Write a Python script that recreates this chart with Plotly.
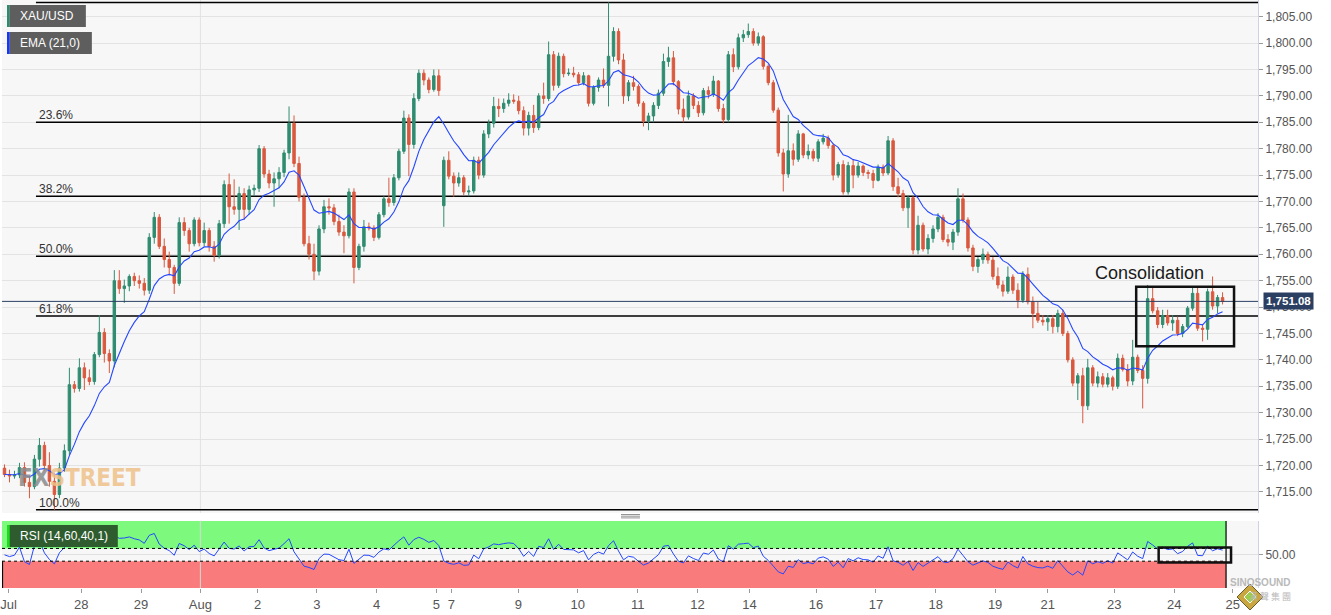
import plotly.graph_objects as go
import pandas as pd

# ---------------- data (2-hour candles, XAU/USD) ----------------
opens = [
    1719.5, 1718.3, 1718.0, 1718.2, 1719.6, 1716.8, 1716.0, 1721.2, 1723.8, 1720.0,
    1717.0, 1714.5, 1719.5, 1722.8, 1735.3, 1734.6, 1738.5, 1736.6, 1735.9, 1741.0,
    1745.2, 1741.2, 1739.8, 1755.0, 1753.5, 1754.0, 1755.8, 1755.0, 1754.5, 1753.2,
    1763.2, 1767.0, 1761.5, 1759.0, 1757.5, 1754.5, 1766.0, 1764.5, 1762.0, 1766.5,
    1762.2, 1764.5, 1761.5, 1759.8, 1765.8, 1773.2, 1769.0, 1768.5, 1771.5, 1768.5,
    1772.2, 1772.5, 1780.0, 1775.2, 1773.5, 1774.3, 1775.5, 1779.2, 1784.8, 1777.2,
    1770.8, 1762.0, 1760.0, 1756.8, 1764.8, 1769.0, 1768.8, 1766.2, 1764.2, 1763.5,
    1771.8, 1757.5, 1761.5, 1765.2, 1765.0, 1763.2, 1767.5, 1770.5, 1769.8, 1774.5,
    1779.5, 1785.8, 1780.8, 1789.5, 1794.3, 1793.0, 1791.2, 1793.8, 1769.2, 1777.8,
    1774.8, 1773.5, 1774.5, 1771.8, 1772.0, 1777.8, 1775.0, 1782.8, 1784.8, 1788.0,
    1787.6, 1788.6, 1789.2, 1789.0, 1787.2, 1783.9, 1786.3, 1784.0, 1790.0, 1789.5,
    1797.8, 1792.0, 1797.5, 1794.2, 1794.3, 1794.0, 1792.5, 1793.8, 1788.6, 1791.6,
    1793.0, 1792.0, 1797.5, 1802.2, 1796.8, 1790.0, 1792.5, 1791.8, 1788.6, 1785.2,
    1786.2, 1788.2, 1790.5, 1796.5, 1797.2, 1792.7, 1787.5, 1786.0, 1790.0, 1788.2,
    1786.8, 1791.0, 1790.3, 1792.8, 1787.6, 1785.5, 1797.8, 1795.5, 1801.0, 1801.6,
    1802.2, 1800.0, 1801.2, 1795.6, 1792.5, 1787.3, 1779.2, 1775.2, 1779.6, 1778.0,
    1782.8, 1778.8, 1779.5, 1778.2, 1781.3, 1782.0, 1780.6, 1775.0, 1777.0, 1771.8,
    1776.8, 1775.0, 1776.7, 1775.5, 1775.3, 1774.0, 1776.5, 1775.4, 1781.5, 1772.8,
    1771.5, 1768.8, 1770.7, 1760.8, 1765.5, 1761.0, 1763.0, 1764.8, 1767.0, 1762.8,
    1762.3, 1764.2, 1770.5, 1766.5, 1761.2, 1757.7, 1759.0, 1760.0, 1758.9, 1755.8,
    1754.2, 1753.0, 1755.7, 1753.2, 1751.3, 1756.2, 1751.0, 1748.8, 1747.5, 1747.2,
    1747.8, 1746.3, 1748.8, 1745.0, 1740.0, 1735.6, 1737.0, 1731.3, 1738.5, 1735.6,
    1736.8, 1735.4, 1736.6, 1735.0, 1740.3, 1738.2, 1736.0, 1740.5, 1738.0, 1736.5,
    1751.6, 1749.3, 1746.7, 1748.4, 1747.0, 1747.5, 1745.0, 1746.3, 1749.8, 1752.6,
    1746.0, 1745.8, 1752.9, 1750.2, 1751.8,
]
highs = [
    1720.2, 1719.2, 1719.0, 1720.5, 1720.6, 1718.0, 1722.0, 1725.2, 1724.5, 1722.5,
    1718.5, 1720.5, 1724.0, 1738.5, 1736.0, 1740.3, 1739.5, 1738.2, 1741.5, 1748.5,
    1746.0, 1742.0, 1757.0, 1757.0, 1755.2, 1756.2, 1756.5, 1756.0, 1755.5, 1764.0,
    1768.0, 1767.6, 1763.0, 1760.5, 1758.0, 1767.0, 1767.0, 1765.0, 1767.0, 1767.0,
    1766.0, 1765.0, 1762.5, 1766.5, 1774.0, 1775.3, 1774.2, 1772.8, 1772.5, 1773.0,
    1773.2, 1780.7, 1780.5, 1776.0, 1775.5, 1776.5, 1779.8, 1788.0, 1786.3, 1778.5,
    1771.5, 1763.5, 1762.0, 1765.5, 1770.3, 1770.6, 1769.5, 1767.5, 1765.5, 1772.5,
    1772.5, 1762.0, 1766.5, 1766.0, 1765.5, 1768.0, 1771.0, 1774.5, 1775.2, 1780.0,
    1787.2, 1786.5, 1790.5, 1795.0, 1795.0, 1793.5, 1795.0, 1795.0, 1778.5, 1779.5,
    1775.5, 1775.5, 1775.0, 1773.0, 1778.5, 1778.5, 1783.5, 1785.5, 1789.8, 1789.5,
    1789.5, 1790.5, 1790.3, 1790.0, 1788.0, 1787.0, 1788.3, 1790.5, 1792.5, 1800.3,
    1798.5, 1798.2, 1798.0, 1795.2, 1795.5, 1794.5, 1794.5, 1794.0, 1792.0, 1793.5,
    1795.2, 1807.7, 1803.0, 1802.8, 1798.0, 1793.0, 1793.8, 1792.2, 1789.0, 1786.8,
    1788.8, 1791.2, 1798.0, 1799.3, 1798.5, 1793.0, 1789.5, 1791.0, 1790.5, 1789.0,
    1791.5, 1791.8, 1793.8, 1793.0, 1788.5, 1798.5, 1799.0, 1801.8, 1802.5, 1803.7,
    1802.8, 1802.0, 1801.5, 1796.0, 1793.0, 1787.8, 1780.0, 1786.4, 1781.0, 1783.5,
    1783.0, 1780.8, 1780.0, 1781.8, 1782.8, 1782.5, 1781.0, 1777.5, 1777.8, 1777.5,
    1778.0, 1777.5, 1777.0, 1776.0, 1776.0, 1777.0, 1777.0, 1782.4, 1782.0, 1774.5,
    1772.2, 1771.2, 1771.0, 1767.3, 1766.0, 1763.8, 1765.5, 1767.8, 1767.5, 1763.8,
    1764.8, 1772.5, 1771.5, 1767.0, 1761.8, 1759.5, 1761.1, 1760.5, 1759.5, 1757.5,
    1755.0, 1757.7, 1756.2, 1754.5, 1756.8, 1757.5, 1752.0, 1751.0, 1748.5, 1748.5,
    1748.5, 1749.5, 1749.5, 1745.5, 1740.5, 1737.5, 1738.5, 1740.2, 1739.0, 1737.8,
    1737.5, 1737.5, 1737.0, 1741.2, 1741.0, 1739.2, 1743.8, 1741.0, 1739.0, 1754.2,
    1754.0, 1750.0, 1749.5, 1749.5, 1748.5, 1748.2, 1746.8, 1750.2, 1753.9, 1753.8,
    1746.8, 1753.5, 1755.8, 1752.3, 1752.8,
]
lows = [
    1717.8, 1716.8, 1717.5, 1717.6, 1716.0, 1713.8, 1715.5, 1719.8, 1719.0, 1716.0,
    1711.6, 1713.8, 1718.8, 1722.0, 1733.8, 1734.0, 1734.3, 1735.2, 1735.3, 1740.5,
    1739.5, 1737.5, 1738.6, 1752.5, 1750.8, 1753.0, 1754.0, 1753.5, 1752.2, 1752.5,
    1762.0, 1761.0, 1757.5, 1756.0, 1752.5, 1754.0, 1763.5, 1760.5, 1761.5, 1761.5,
    1761.5, 1760.5, 1758.6, 1759.2, 1765.0, 1765.8, 1767.5, 1764.6, 1766.5, 1767.5,
    1771.0, 1771.8, 1774.5, 1772.5, 1769.0, 1772.5, 1774.6, 1778.0, 1776.5, 1770.0,
    1761.5, 1759.0, 1755.1, 1756.0, 1764.0, 1767.5, 1765.5, 1763.5, 1760.2, 1763.0,
    1754.5, 1757.0, 1760.5, 1764.5, 1762.5, 1762.8, 1767.0, 1769.0, 1769.2, 1774.0,
    1779.0, 1774.8, 1780.0, 1789.0, 1792.0, 1790.5, 1790.8, 1790.0, 1765.2, 1774.2,
    1770.9, 1772.8, 1771.2, 1771.0, 1771.5, 1774.2, 1774.5, 1782.0, 1784.0, 1786.0,
    1786.8, 1788.0, 1788.5, 1786.5, 1782.5, 1782.5, 1783.0, 1783.5, 1788.5, 1789.0,
    1791.0, 1791.5, 1793.5, 1793.8, 1793.5, 1792.0, 1792.0, 1788.0, 1788.2, 1790.8,
    1791.5, 1788.0, 1796.5, 1796.0, 1788.5, 1789.0, 1791.0, 1788.0, 1784.2, 1783.5,
    1785.0, 1787.5, 1790.0, 1795.5, 1792.0, 1786.5, 1785.0, 1785.5, 1787.5, 1786.0,
    1786.3, 1789.5, 1789.8, 1787.0, 1784.8, 1785.0, 1794.5, 1795.0, 1800.2, 1801.0,
    1799.5, 1799.5, 1795.0, 1792.0, 1786.8, 1778.5, 1771.9, 1774.5, 1776.8, 1777.5,
    1778.2, 1778.0, 1777.6, 1777.5, 1780.8, 1780.0, 1774.0, 1774.5, 1771.3, 1771.3,
    1772.5, 1774.5, 1774.8, 1774.3, 1772.5, 1773.8, 1774.8, 1775.0, 1772.0, 1770.8,
    1768.2, 1765.0, 1760.0, 1760.0, 1760.5, 1760.0, 1762.2, 1764.2, 1762.3, 1761.5,
    1760.8, 1763.5, 1766.0, 1760.5, 1756.8, 1756.5, 1758.2, 1758.2, 1755.2, 1753.5,
    1752.0, 1752.5, 1752.5, 1749.8, 1750.8, 1750.5, 1746.0, 1747.0, 1746.5, 1745.5,
    1745.0, 1745.2, 1744.5, 1739.5, 1735.0, 1732.4, 1728.0, 1730.5, 1735.0, 1734.8,
    1734.8, 1734.8, 1734.2, 1734.5, 1737.8, 1735.0, 1735.2, 1737.5, 1730.8, 1735.5,
    1748.8, 1746.0, 1746.0, 1746.5, 1745.5, 1744.5, 1744.3, 1746.0, 1749.3, 1745.5,
    1743.5, 1743.8, 1749.5, 1748.8, 1750.5,
]
closes = [
    1718.3, 1718.0, 1718.2, 1719.6, 1716.8, 1716.0, 1721.2, 1723.8, 1720.0, 1717.0,
    1714.5, 1719.5, 1722.8, 1735.3, 1734.6, 1738.5, 1736.6, 1735.9, 1741.0, 1745.2,
    1741.2, 1739.8, 1755.0, 1753.5, 1754.0, 1755.8, 1755.0, 1754.5, 1753.2, 1763.2,
    1767.0, 1761.5, 1759.0, 1757.5, 1754.5, 1766.0, 1764.5, 1762.0, 1766.5, 1762.2,
    1764.5, 1761.5, 1759.8, 1765.8, 1773.2, 1769.0, 1768.5, 1771.5, 1768.5, 1772.2,
    1772.5, 1780.0, 1775.2, 1773.5, 1774.3, 1775.5, 1779.2, 1784.8, 1777.2, 1770.8,
    1762.0, 1760.0, 1756.8, 1764.8, 1769.0, 1768.8, 1766.2, 1764.2, 1763.5, 1771.8,
    1757.5, 1761.5, 1765.2, 1765.0, 1763.2, 1767.5, 1770.5, 1769.8, 1774.5, 1779.5,
    1785.8, 1780.8, 1789.5, 1794.3, 1793.0, 1791.2, 1793.8, 1791.0, 1777.8, 1774.8,
    1773.5, 1774.5, 1771.8, 1772.0, 1777.8, 1775.0, 1782.8, 1784.8, 1788.0, 1787.6,
    1788.6, 1789.2, 1789.0, 1787.2, 1783.9, 1786.3, 1784.0, 1790.0, 1789.5, 1797.8,
    1792.0, 1797.5, 1794.2, 1794.3, 1794.0, 1792.5, 1793.8, 1788.6, 1791.6, 1793.0,
    1792.0, 1797.5, 1802.2, 1796.8, 1790.0, 1792.5, 1791.8, 1788.6, 1785.2, 1786.2,
    1788.2, 1790.5, 1796.5, 1797.2, 1792.7, 1787.5, 1786.0, 1790.0, 1788.2, 1786.8,
    1791.0, 1790.3, 1792.8, 1787.6, 1785.5, 1797.8, 1795.5, 1801.0, 1801.6, 1802.2,
    1800.0, 1801.2, 1795.6, 1792.5, 1787.3, 1779.2, 1775.2, 1779.6, 1778.0, 1782.8,
    1778.8, 1779.5, 1778.2, 1781.3, 1782.0, 1780.6, 1775.0, 1777.0, 1771.8, 1776.8,
    1775.0, 1776.7, 1775.5, 1775.3, 1774.0, 1776.5, 1775.4, 1781.5, 1772.8, 1771.5,
    1768.8, 1770.7, 1760.8, 1765.5, 1761.0, 1763.0, 1764.8, 1767.0, 1762.8, 1762.3,
    1764.2, 1770.5, 1766.5, 1761.2, 1757.7, 1759.0, 1760.0, 1758.9, 1755.8, 1754.2,
    1753.0, 1755.7, 1753.2, 1751.3, 1756.2, 1751.0, 1748.8, 1747.5, 1747.2, 1747.8,
    1746.3, 1748.8, 1745.0, 1740.0, 1735.6, 1737.0, 1731.3, 1738.5, 1735.6, 1736.8,
    1735.4, 1736.6, 1735.0, 1740.3, 1738.2, 1736.0, 1740.5, 1738.0, 1736.5, 1751.6,
    1749.3, 1746.7, 1748.4, 1747.0, 1747.5, 1745.0, 1746.3, 1749.8, 1752.6, 1746.0,
    1745.8, 1752.9, 1750.2, 1751.8, 1751.08,
]

# date labels on the candle-index axis
tick_pos = [0.8, 15.36, 27.36, 39.24, 50.7, 62.56, 74.56, 86.5, 89.5, 102.96,
            114.84, 126.84, 138.84, 149.24, 162.56, 174.56, 186.56, 198.44,
            208.96, 222.3, 234.3, 246.04]
tick_text = ["Jul", "28", "29", "Aug", "2", "3", "4", "5", "7", "9",
             "10", "11", "12", "14", "16", "17", "18", "19",
             "21", "23", "24", "25"]
month_start = 39.24

fib_ratios = [0.0, 0.236, 0.382, 0.5, 0.618, 1.0]
fib_labels = ["0.0%", "23.6%", "38.2%", "50.0%", "61.8%", "100.0%"]

ema_len = 11        # 2-hour bars ~ EMA(21) on hourly
rsi_len = 7         # 2-hour bars ~ RSI(14) on hourly
rsi_hi, rsi_lo = 60, 40

consol_box = dict(i0=226.7, i1=246.3, p0=1742.6, p1=1753.86)
rsi_box = dict(i0=231.2, i1=245.7, r0=37.9, r1=61.5)

# ---------------- derived indicators ----------------
idx = list(range(len(closes)))
cs = pd.Series(closes)
ema = cs.ewm(span=ema_len, adjust=False).mean()

ag, al = 0.5, 0.5
rsi = []
prev = closes[0]
for c in closes:
    d = c - prev
    prev = c
    g, l = max(d, 0), max(-d, 0)
    ag = (ag * (rsi_len - 1) + g) / rsi_len
    al = (al * (rsi_len - 1) + l) / rsi_len
    rsi.append(100 - 100 / (1 + ag / al) if al > 0 else 100)

last_price = closes[-1]
hi, lo = max(highs), min(lows)
fib_levels = [hi - r * (hi - lo) for r in fib_ratios]

# ---------------- geometry helpers ----------------
W_PLOT, H_PLOT = 1258, 588
def pxx(x):
    return x / W_PLOT
def pxy(y):
    return 1 - y / H_PLOT

X_RANGE = [-0.5, 251.1]
FONT = "Liberation Sans, Arial, sans-serif"

fig = go.Figure()
fig.add_trace(go.Candlestick(
    x=idx, open=opens, high=highs, low=lows, close=closes,
    increasing=dict(line=dict(color="#2f8c70", width=1), fillcolor="#2f8c70"),
    decreasing=dict(line=dict(color="#d9593f", width=1), fillcolor="#d9593f"),
    whiskerwidth=0, xaxis="x", yaxis="y", hoverinfo="skip",
))
fig.add_trace(go.Scatter(x=idx, y=ema, mode="lines",
                         line=dict(color="#2447ff", width=1.1),
                         xaxis="x", yaxis="y", hoverinfo="skip"))
fig.add_trace(go.Scatter(x=idx, y=rsi, mode="lines",
                         line=dict(color="#2447ff", width=1),
                         xaxis="x2", yaxis="y2", hoverinfo="skip"))

shapes = []
# fib lines
fib_x0 = 6.3
for lev in fib_levels:
    shapes.append(dict(type="line", xref="x", yref="y", x0=fib_x0, x1=X_RANGE[1],
                       y0=lev, y1=lev, line=dict(color="#000000", width=1.5),
                       layer="between"))
# month separator
shapes.append(dict(type="line", xref="x", yref="paper", x0=month_start, x1=month_start,
                   y0=pxy(513), y1=1, line=dict(color="#e2e2e2", width=1), layer="below"))
# current price line
shapes.append(dict(type="line", xref="paper", yref="y", x0=0, x1=1,
                   y0=last_price, y1=last_price, line=dict(color="#2b3f63", width=1)))
# consolidation box
shapes.append(dict(type="rect", xref="x", yref="y", x0=consol_box["i0"], x1=consol_box["i1"],
                   y0=consol_box["p0"], y1=consol_box["p1"],
                   line=dict(color="#111111", width=2.5)))
# RSI zones
rsi_end = 244.7
shapes.append(dict(type="rect", xref="x2", yref="y2", x0=X_RANGE[0], x1=rsi_end,
                   y0=rsi_hi, y1=103, fillcolor="#7dfa7d", line=dict(width=0), layer="below"))
shapes.append(dict(type="rect", xref="x2", yref="y2", x0=X_RANGE[0], x1=rsi_end,
                   y0=-2, y1=rsi_lo, fillcolor="#fa7b7b", line=dict(width=0), layer="below"))
shapes.append(dict(type="line", xref="x2", yref="y2", x0=month_start, x1=month_start,
                   y0=-2, y1=103, line=dict(color="#d8d8d8", width=1), layer="between"))
for lev in (rsi_hi, rsi_lo):
    shapes.append(dict(type="line", xref="x2", yref="y2", x0=X_RANGE[0], x1=rsi_end,
                       y0=lev, y1=lev, line=dict(color="#000000", width=1, dash="dot")))
shapes.append(dict(type="line", xref="x2", yref="y2", x0=rsi_end, x1=rsi_end,
                   y0=-2, y1=103, line=dict(color="#000000", width=1.2)))
shapes.append(dict(type="line", xref="x2", yref="y2", x0=X_RANGE[0] + 0.1, x1=X_RANGE[0] + 0.1,
                   y0=-2, y1=rsi_lo, line=dict(color="#000000", width=1.2)))
shapes.append(dict(type="rect", xref="x2", yref="y2", x0=rsi_box["i0"], x1=rsi_box["i1"],
                   y0=rsi_box["r0"], y1=rsi_box["r1"], line=dict(color="#111111", width=2.5)))
# legend boxes top-left
def label_box(y0, y1, x1, bar, fill):
    shapes.append(dict(type="rect", xref="paper", yref="paper", x0=pxx(7.3), x1=pxx(x1),
                       y0=pxy(y1), y1=pxy(y0), fillcolor=fill, line=dict(width=0)))
    shapes.append(dict(type="rect", xref="paper", yref="paper", x0=pxx(5), x1=pxx(7.5),
                       y0=pxy(y1), y1=pxy(y0), fillcolor=bar, line=dict(width=0)))
label_box(5, 27, 84, "#2e8b6e", "#5e5e5e")
label_box(32, 54, 90, "#1437ff", "#5e5e5e")
label_box(525, 547, 116, "#16e016", "#2e5c2e")
# drag handle
for yy in (514.5, 516.2, 517.9):
    shapes.append(dict(type="line", xref="paper", yref="paper", x0=pxx(620), x1=pxx(639),
                       y0=pxy(yy), y1=pxy(yy), line=dict(color="#777777", width=0.8)))
# logo diamond
shapes.append(dict(type="path", xref="paper", yref="paper",
                   path=f"M {pxx(1250)},{pxy(584)} L {pxx(1263)},{pxy(597)} L {pxx(1250)},{pxy(610)} L {pxx(1237)},{pxy(597)} Z",
                   fillcolor="#c9a640", line=dict(color="#6b5a2a", width=1)))
shapes.append(dict(type="path", xref="paper", yref="paper",
                   path=f"M {pxx(1250)},{pxy(591)} L {pxx(1256)},{pxy(597)} L {pxx(1250)},{pxy(603)} L {pxx(1244)},{pxy(597)} Z",
                   fillcolor="#9ccc4a", line=dict(color="#ffffff", width=1)))

annotations = []
for lev, lab in zip(fib_levels, fib_labels):
    annotations.append(dict(xref="x", yref="y", x=fib_x0 + 0.2, y=lev, text=lab,
                            showarrow=False, xanchor="left", yanchor="bottom", yshift=-2,
                            font=dict(family=FONT, size=12, color="#333333")))
annotations.append(dict(xref="paper", yref="y", x=1, y=last_price, xanchor="left", xshift=5,
                        text="<b>" + f"{last_price:,.2f}" + "</b>", showarrow=False,
                        bgcolor="#2b3f63", font=dict(family=FONT, size=11.5, color="#ffffff"),
                        borderpad=2))
annotations.append(dict(xref="x", yref="y", x=229.3, y=1756.5, text="Consolidation",
                        showarrow=False, font=dict(family=FONT, size=18, color="#1a1a1a")))
for txt, yc in (("XAU/USD", 16), ("EMA (21,0)", 43), ("RSI (14,60,40,1)", 536)):
    annotations.append(dict(xref="paper", yref="paper", x=pxx(16.5), y=pxy(yc), text=txt,
                            showarrow=False, xanchor="left", yanchor="middle",
                            font=dict(family=FONT, size=12, color="#ffffff")))
annotations.append(dict(xref="paper", yref="paper", x=pxx(14), y=pxy(478),
                        text="<span style='color:#8c8c8c'>FX</span><span style='color:#efc28a'>STREET</span>",
                        showarrow=False, xanchor="left", yanchor="middle", opacity=0.85,
                        font=dict(family="DejaVu Sans Condensed, DejaVu Sans, sans-serif",
                                  size=24, color="#efc28a", weight="bold")))
annotations.append(dict(xref="paper", yref="paper", x=pxx(1293), y=pxy(590),
                        text="<b>SINOSOUND</b>", showarrow=False,
                        font=dict(family=FONT, size=10, color="#b9b9b9")))
annotations.append(dict(xref="paper", yref="paper", x=pxx(1293), y=pxy(605),
                        text="漢 聲 集 團", showarrow=False,
                        font=dict(family="Noto Sans CJK TC, sans-serif", size=9, color="#b9b9b9")))

fig.update_layout(
    width=1331, height=615,
    margin=dict(l=0, r=73, t=0, b=27),
    paper_bgcolor="#ffffff", plot_bgcolor="#f7f7f7",
    showlegend=False,
    shapes=shapes, annotations=annotations,
    xaxis=dict(domain=[0, 1], anchor="y", range=X_RANGE, showticklabels=False,
               showgrid=False, zeroline=False, rangeslider=dict(visible=False),
               ticks=""),
    yaxis=dict(domain=[pxy(513), 1], anchor="x", range=[1711.0, 1808.16], side="right",
               tick0=1700, dtick=5, tickformat=",.2f", gridcolor="#e3e3e3",
               ticks="outside", ticklen=4, tickcolor="#9a9a9a",
               showline=True, linecolor="#cbd3e4", zeroline=False,
               tickfont=dict(family=FONT, size=12, color="#555555")),
    xaxis2=dict(domain=[0, 1], anchor="y2", range=X_RANGE, matches="x",
                tickmode="array", tickvals=tick_pos, ticktext=tick_text,
                ticks="outside", ticklen=4, tickcolor="#9a9a9a", showgrid=False,
                zeroline=False, showline=False, ticklabeloverflow="allow",
                tickfont=dict(family=FONT, size=13, color="#555555")),
    yaxis2=dict(domain=[0, pxy(521)], anchor="x2", range=[-2, 103], side="right",
                tickmode="array", tickvals=[50], ticktext=["50.00"],
                gridcolor="#e0e0e0", ticks="outside", ticklen=4, tickcolor="#9a9a9a",
                showline=True, linecolor="#cbd3e4", zeroline=False,
                tickfont=dict(family=FONT, size=12, color="#555555")),
)

fig.write_html("out.html", config={"displayModeBar": False},
               post_script="document.body.style.margin='0px';document.body.style.overflow='hidden';")
